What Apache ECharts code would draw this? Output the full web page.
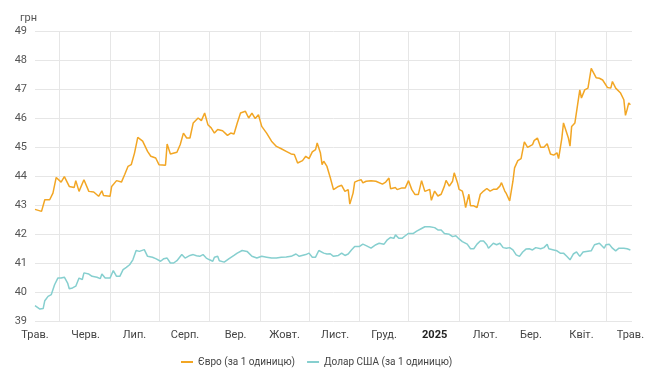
<!DOCTYPE html>
<html>
<head>
<meta charset="utf-8">
<script src="https://cdn.jsdelivr.net/npm/echarts@6/dist/echarts.min.js"></script>
<style>html,body{margin:0;padding:0;background:#fff}#c{width:650px;height:384px}</style>
</head>
<body>
<div id="c"></div>
<script>
// Day offsets from 1 May 2024 and rates (UAH per 1 unit)
const eurDay = [0,4,6,7,9,11,13,16,18,21,24,25,27,30,31,33,36,39,41,42,46,47,50,53,55,57,59,61,63,66,69,71,74,76,80,81,83,87,89,91,93,95,97,100,102,104,106,108,110,112,115,118,120,122,124,126,129,131,133,135,137,138,139,142,145,148,151,154,157,159,161,164,166,168,170,172,173,175,176,177,179,181,183,186,188,190,192,193,195,196,198,200,201,203,206,209,213,215,217,218,221,222,225,227,229,231,233,235,237,239,242,243,245,247,249,251,252,254,256,257,259,260,262,263,264,266,267,269,271,273,275,277,279,281,283,285,286,288,289,291,293,294,296,298,300,302,305,306,308,310,312,314,316,318,320,321,323,324,325,327,328,329,331,332,334,335,337,339,341,344,346,348,351,353,354,356,357,359,361,362,363,364,365];
const eurRate = [42.85,42.78,43.18,43.24,43.18,43.41,43.95,43.79,43.98,43.64,43.60,43.84,43.47,43.87,43.84,43.47,43.45,43.30,43.49,43.33,43.30,43.64,43.84,43.79,44.05,44.33,44.39,44.79,45.33,45.20,44.85,44.68,44.62,44.39,44.37,45.10,44.76,44.82,45.08,45.48,45.31,45.31,45.83,46.00,45.91,46.17,45.77,45.66,45.48,45.60,45.56,45.40,45.48,45.45,45.83,46.17,46.23,46.00,46.17,45.98,46.11,46.06,45.71,45.48,45.20,45.02,44.94,44.85,44.76,44.74,44.45,44.53,44.68,44.60,44.83,44.91,45.14,44.79,44.39,44.51,44.33,43.95,43.53,43.64,43.68,43.47,43.53,43.03,43.41,43.79,43.84,43.87,43.76,43.82,43.84,43.82,43.72,43.79,43.93,43.56,43.60,43.53,43.59,43.59,43.84,43.53,43.36,43.36,43.84,43.47,43.54,43.16,43.48,43.31,43.37,43.65,43.85,43.65,43.82,44.11,43.77,43.54,43.48,43.25,42.91,43.37,42.97,42.97,42.91,43.37,43.48,43.57,43.48,43.54,43.54,43.65,43.77,43.48,43.39,43.14,43.82,44.28,44.53,44.60,45.18,44.99,45.08,45.22,45.31,44.99,44.99,45.11,44.76,44.72,44.80,44.60,45.31,45.83,45.83,45.31,45.03,45.71,45.83,45.83,46.97,46.69,46.97,47.03,47.71,47.39,47.37,47.31,47.05,47.03,47.26,47.03,46.97,46.86,46.63,46.09,46.29,46.52,46.46];
const usdDay = [0,3,5,6,8,10,12,14,16,18,20,21,23,25,27,29,30,33,35,38,40,41,43,46,47,48,50,52,54,56,58,60,62,64,67,69,72,74,77,79,81,83,85,87,90,92,95,97,99,101,103,105,107,109,110,112,113,116,119,122,124,127,130,133,136,139,142,145,148,151,154,157,160,162,166,168,170,172,174,177,179,181,183,186,188,190,192,194,196,199,201,203,206,207,209,211,214,216,218,220,221,223,225,227,229,232,234,237,239,242,245,247,249,251,254,256,258,260,262,265,267,269,271,273,275,277,278,281,283,285,287,289,291,293,295,297,299,301,303,305,307,310,312,314,315,318,320,322,324,326,328,330,332,334,336,338,341,343,346,347,349,350,352,354,356,358,361,363,365];
const usdRate = [39.53,39.41,39.43,39.70,39.85,39.91,40.25,40.48,40.48,40.51,40.31,40.11,40.14,40.20,40.48,40.43,40.66,40.62,40.54,40.51,40.46,40.62,40.48,40.48,40.51,40.74,40.54,40.54,40.77,40.85,40.94,41.11,41.43,41.40,41.46,41.23,41.20,41.15,41.06,41.15,41.17,41.00,41.00,41.08,41.29,41.17,41.26,41.29,41.25,41.23,41.29,41.17,41.11,41.06,41.20,41.23,41.08,41.03,41.15,41.26,41.34,41.43,41.40,41.23,41.17,41.23,41.20,41.17,41.17,41.20,41.21,41.23,41.31,41.23,41.29,41.34,41.20,41.20,41.43,41.34,41.31,41.32,41.23,41.26,41.34,41.26,41.31,41.45,41.57,41.57,41.65,41.60,41.51,41.45,41.63,41.68,41.65,41.80,41.88,41.85,41.97,41.85,41.85,41.94,42.02,42.02,42.10,42.19,42.25,42.25,42.22,42.14,42.14,42.02,41.99,41.91,41.94,41.83,41.74,41.65,41.49,41.49,41.65,41.76,41.76,41.63,41.51,41.68,41.63,41.68,41.53,41.51,41.53,41.45,41.28,41.23,41.38,41.48,41.49,41.45,41.53,41.49,41.53,41.65,41.49,41.45,41.42,41.34,41.34,41.23,41.11,41.31,41.38,41.23,41.38,41.40,41.42,41.63,41.68,41.72,41.51,41.63,41.65,41.51,41.42,41.51,41.51,41.49,41.45];
const monthLabels = ['Трав.','Черв.','Лип.','Серп.','Вер.','Жовт.','Лист.','Груд.','2025','Лют.','Бер.','Квіт.','Трав.'];
const yTicks = [39,40,41,42,43,44,45,46,47,48,49];
const seriesNames = ['Євро (за 1 одиницю)','Долар США (за 1 одиницю)'];

const DAY = 86400000;
const START = Date.UTC(2024, 4, 1);
const dayOf = (y, m, d) => Math.round((Date.UTC(y, m, d) - START) / DAY);
const END_DAY = dayOf(2025, 4, 2);
const toPairs = (days, vals) => days.map((d, i) => [d, vals[i]]);
const monthStarts = monthLabels.map((_, i) => dayOf(2024, 4 + i, 1));
const midMonths = [];
for (let i = 0; i < 12; i++) midMonths.push(dayOf(2024, 4 + i, 16));

const chart = echarts.init(document.getElementById('c'), null, {renderer: 'canvas'});
chart.setOption({
  animation: false,
  textStyle: {fontFamily: 'Roboto'},
  title: {text: 'грн', left: 15, top: 8, textStyle: {fontSize: 11, fontWeight: 'normal', color: '#555', fontFamily: 'Roboto'}},
  grid: {left: 35, right: 18, top: 31, bottom: 63, containLabel: false},
  legend: {
    left: 176, top: 352, itemWidth: 12, itemHeight: 2, itemGap: 12, icon: 'rect',
    textStyle: {fontSize: 10, color: '#444', fontFamily: 'Roboto'},
    data: seriesNames
  },
  xAxis: {
    type: 'value', min: 0, max: END_DAY,
    axisLine: {show: false},
    axisTick: {show: false, customValues: midMonths},
    splitLine: {show: true, lineStyle: {color: '#e6e6e6', width: 1}},
    axisLabel: {
      customValues: monthStarts, margin: 9, fontSize: 11, color: '#444', fontFamily: 'Roboto',
      formatter: function (v) {
        const idx = monthStarts.indexOf(Math.round(v));
        const t = monthLabels[idx];
        return t === '2025' ? '{b|' + t + '}' : t;
      },
      rich: {b: {fontWeight: 'bold', fontSize: 11, color: '#222', fontFamily: 'Roboto'}}
    }
  },
  yAxis: {
    type: 'value', min: yTicks[0], max: yTicks[yTicks.length - 1], interval: 1,
    axisLine: {show: false}, axisTick: {show: false},
    axisLabel: {fontSize: 11, color: '#555', margin: 8, fontFamily: 'Roboto'},
    splitLine: {lineStyle: {color: '#e6e6e6', width: 1}}
  },
  series: [
    {name: seriesNames[0], type: 'line', showSymbol: false, symbol: 'none', color: '#F2A624',
     lineStyle: {width: 1.5, color: '#F2A624'}, data: toPairs(eurDay, eurRate)},
    {name: seriesNames[1], type: 'line', showSymbol: false, symbol: 'none', color: '#86CFCF',
     lineStyle: {width: 1.5, color: '#86CFCF'}, data: toPairs(usdDay, usdRate)}
  ]
});
</script>
</body>
</html>
